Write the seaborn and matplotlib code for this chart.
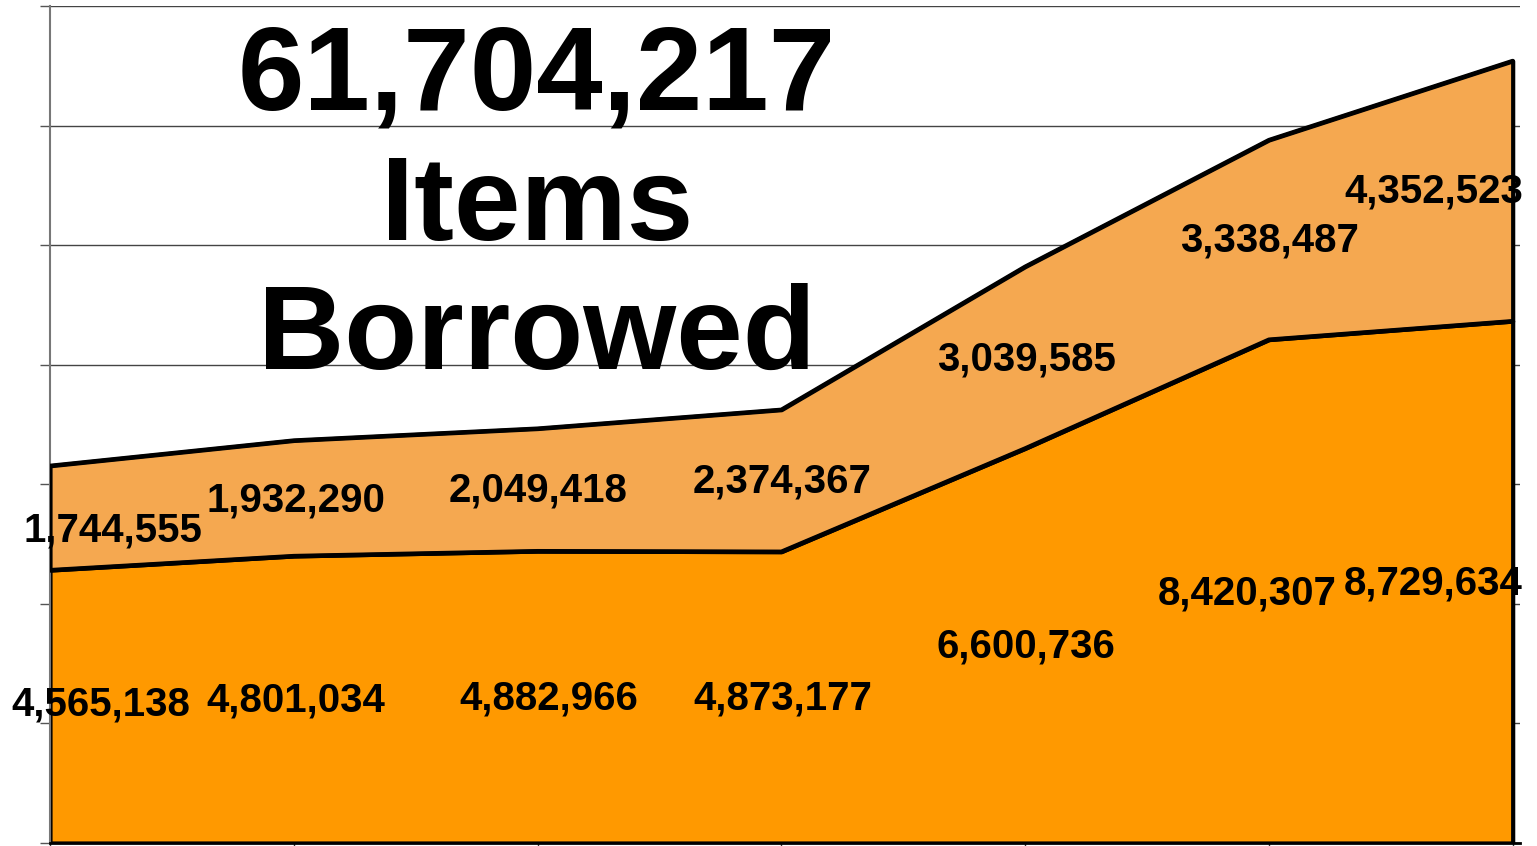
import matplotlib
matplotlib.use("Agg")
import matplotlib.pyplot as plt
import seaborn as sns
import pandas as pd

# ------------------------------------------------------------
# Dados (itens emprestados por ano, duas camadas empilhadas)
# ------------------------------------------------------------
periodos = [0, 1, 2, 3, 4, 5, 6]
emprestimos_base = [4565138, 4801034, 4882966, 4873177, 6600736, 8420307, 8729634]
emprestimos_extra = [1744555, 1932290, 2049418, 2374367, 3039585, 3338487, 4352523]

titulo_linhas = ["Items", "Borrowed"]

df = pd.DataFrame({"periodo": periodos, "base": emprestimos_base, "extra": emprestimos_extra})
df["acumulado"] = df["base"] + df["extra"]
total = int(df["acumulado"].sum())

# deslocamentos dos rótulos (pixels), como no gráfico original
desloc_extra = [(63, -13), (2, -2), (1, -1), (1, -1), (1, -2), (1, -1), (-79, -1)]
desloc_base = [(51, 2), (2, -1), (11, -1), (1, -1), (1, -1), (-22, -2), (-79, -1)]

# ------------------------------------------------------------
# Estilo
# ------------------------------------------------------------
sns.set_style("white")
plt.rcParams["font.family"] = ["Liberation Sans", "DejaVu Sans"]

fig = plt.figure(figsize=(15.37, 8.46), dpi=100)
ax = fig.add_axes([50 / 1537, 3 / 846, 1470 / 1537, 837 / 846])

cor_base = "#FF9900"
cor_extra = "#F5A850"

ax.fill_between(df["periodo"], 0, df["base"], facecolor=cor_base,
                edgecolor="black", linewidth=3, zorder=2)
ax.fill_between(df["periodo"], df["base"], df["acumulado"], facecolor=cor_extra,
                edgecolor="black", linewidth=3, zorder=3)
sns.lineplot(data=df, x="periodo", y="acumulado", color="black", linewidth=3, ax=ax, zorder=4)
sns.lineplot(data=df, x="periodo", y="base", color="black", linewidth=3, ax=ax, zorder=4)

# ------------------------------------------------------------
# Eixos
# ------------------------------------------------------------
ax.set_xlim(0, 6.03)
ax.set_ylim(0, 14000000)
ax.set_yticks(range(0, 14000001, 2000000))
ax.set_xticks(periodos)
ax.set_xticklabels([])
ax.set_yticklabels([])
ax.set_xlabel("")
ax.set_ylabel("")
ax.grid(axis="y", color="#444444", linewidth=1)
ax.set_axisbelow(True)
ax.tick_params(axis="y", left=True, length=7, width=1, color="#555555")
ax.tick_params(axis="x", bottom=True, length=3, width=1, color="#333333")
for lado in ["top", "right"]:
    ax.spines[lado].set_visible(False)
ax.spines["left"].set_color("#777777")
ax.spines["left"].set_linewidth(1.5)
ax.spines["bottom"].set_color("black")
ax.spines["bottom"].set_linewidth(2)

# ------------------------------------------------------------
# Rótulos de valores
# ------------------------------------------------------------
for i, linha in df.iterrows():
    meio_base = linha["base"] / 2
    meio_extra = linha["base"] + linha["extra"] / 2
    ax.annotate(f"{int(linha['extra']):,}", (linha["periodo"], meio_extra),
                xytext=desloc_extra[i], textcoords="offset pixels",
                ha="center", va="center", fontsize=29, fontweight="bold",
                color="black", zorder=6, annotation_clip=False)
    ax.annotate(f"{int(linha['base']):,}", (linha["periodo"], meio_base),
                xytext=desloc_base[i], textcoords="offset pixels",
                ha="center", va="center", fontsize=29, fontweight="bold",
                color="black", zorder=6, annotation_clip=False)

# ------------------------------------------------------------
# Título grande
# ------------------------------------------------------------
fig.text(537 / 1537, 1 - 110 / 846, f"{total:,}", ha="center", va="baseline",
         fontsize=86, fontweight="bold", color="black")
fig.text(537 / 1537, 1 - 240 / 846, titulo_linhas[0], ha="center", va="baseline",
         fontsize=86, fontweight="bold", color="black")
fig.text(537 / 1537, 1 - 369 / 846, titulo_linhas[1], ha="center", va="baseline",
         fontsize=86, fontweight="bold", color="black")

fig.savefig("out.png", dpi=100)
